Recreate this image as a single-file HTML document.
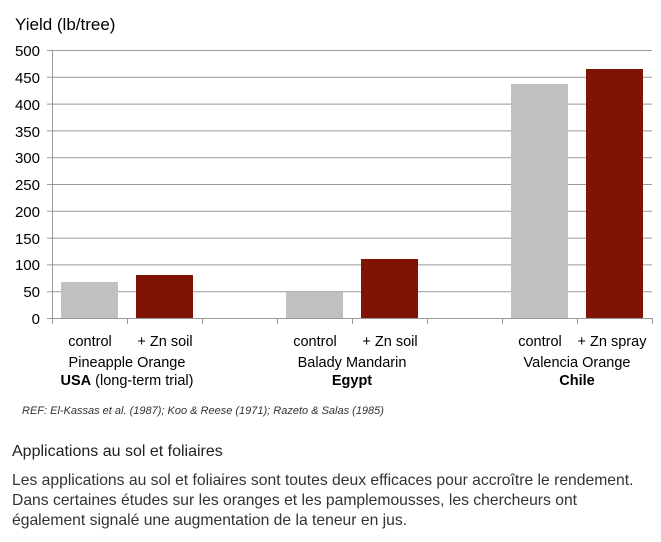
<!DOCTYPE html>
<html><head><meta charset="utf-8"><style>
body{margin:0;width:661px;height:542px;background:#fff;overflow:hidden;font-family:"Liberation Sans",Arial,sans-serif}
.t{position:absolute;white-space:nowrap}
</style></head><body>
<svg width="661" height="430" style="position:absolute;left:0;top:0" font-family="Liberation Sans, Arial, sans-serif">
<text x="15" y="30" font-size="17" fill="#000">Yield (lb/tree)</text>
<g stroke="#999" stroke-width="1">
<line x1="47" y1="50.5" x2="652" y2="50.5"/>
<line x1="47" y1="77.3" x2="652" y2="77.3"/>
<line x1="47" y1="104.1" x2="652" y2="104.1"/>
<line x1="47" y1="130.9" x2="652" y2="130.9"/>
<line x1="47" y1="157.7" x2="652" y2="157.7"/>
<line x1="47" y1="184.5" x2="652" y2="184.5"/>
<line x1="47" y1="211.3" x2="652" y2="211.3"/>
<line x1="47" y1="238.1" x2="652" y2="238.1"/>
<line x1="47" y1="264.9" x2="652" y2="264.9"/>
<line x1="47" y1="291.7" x2="652" y2="291.7"/>
<line x1="47" y1="318.5" x2="652" y2="318.5"/>
<line x1="52.5" y1="50" x2="52.5" y2="318"/>
<line x1="52.5" y1="318" x2="52.5" y2="324"/>
<line x1="127.5" y1="318" x2="127.5" y2="324"/>
<line x1="202.5" y1="318" x2="202.5" y2="324"/>
<line x1="277.5" y1="318" x2="277.5" y2="324"/>
<line x1="352.5" y1="318" x2="352.5" y2="324"/>
<line x1="427.5" y1="318" x2="427.5" y2="324"/>
<line x1="502.5" y1="318" x2="502.5" y2="324"/>
<line x1="577.5" y1="318" x2="577.5" y2="324"/>
<line x1="652.5" y1="318" x2="652.5" y2="324"/>
</g>
<g font-size="15" text-anchor="end" fill="#000">
<text x="40" y="56">500</text><text x="40" y="83">450</text><text x="40" y="110">400</text>
<text x="40" y="137">350</text><text x="40" y="163">300</text><text x="40" y="190">250</text>
<text x="40" y="217">200</text><text x="40" y="244">150</text><text x="40" y="270">100</text>
<text x="40" y="297">50</text><text x="40" y="324">0</text>
</g>
<rect x="61" y="282" width="57" height="36" fill="#c0c0c0"/>
<rect x="136" y="275" width="57" height="43" fill="#7f1404"/>
<rect x="286" y="292" width="57" height="26" fill="#c0c0c0"/>
<rect x="361" y="259" width="57" height="59" fill="#7f1404"/>
<rect x="511" y="84" width="57" height="234" fill="#c0c0c0"/>
<rect x="586" y="69" width="57" height="249" fill="#7f1404"/>
<g font-size="14.5" text-anchor="middle" fill="#000">
<text x="90" y="346">control</text><text x="165" y="346">+ Zn soil</text>
<text x="315" y="346">control</text><text x="390" y="346">+ Zn soil</text>
<text x="540" y="346">control</text><text x="612" y="346">+ Zn spray</text>
<text x="127" y="367">Pineapple Orange</text>
<text x="352" y="367">Balady Mandarin</text>
<text x="577" y="367">Valencia Orange</text>
<text x="127" y="385"><tspan font-weight="bold">USA</tspan>  (long-term trial)</text>
<text x="352" y="385" font-weight="bold">Egypt</text>
<text x="577" y="385" font-weight="bold">Chile</text>
</g>
<text x="22" y="414" font-size="11" font-style="italic" fill="#333">REF: El-Kassas et al. (1987);  Koo &amp; Reese (1971);  Razeto  &amp; Salas (1985)</text>
</svg>
<div class="t" style="left:12px;top:443px;font-size:16px;color:#222">Applications au sol et foliaires</div>
<div class="t" style="left:12px;top:471px;font-size:15.7px;line-height:20px;color:#333">Les applications au sol et foliaires sont toutes deux efficaces pour accroître le rendement.<br>Dans certaines études sur les oranges et les pamplemousses, les chercheurs ont<br>également signalé une augmentation de la teneur en jus.</div>
</body></html>
